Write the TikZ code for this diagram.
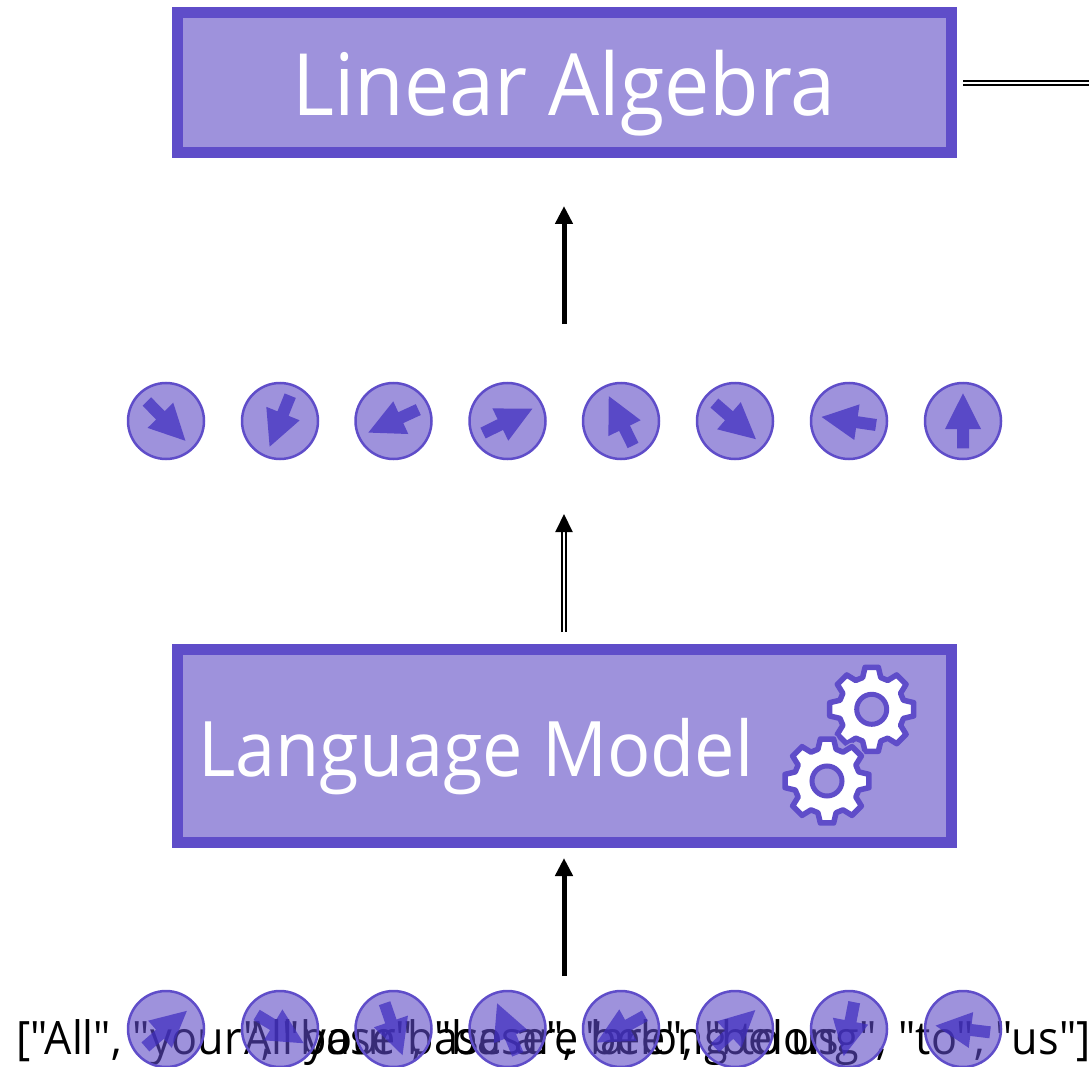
\documentclass[tikz,border=0pt]{standalone}
\usepackage{fontspec}
\setmainfont{Open Sans}
\newfontfamily\titlefont[FakeStretch=0.94]{Open Sans}
\newfontfamily\listfont[FakeStretch=0.938]{Open Sans}
\usetikzlibrary{arrows.meta}
\definecolor{edgec}{HTML}{5F4DC9}
\definecolor{boxc}{HTML}{9E92DC}
\definecolor{tintc}{HTML}{5D49C5}
\definecolor{markc}{HTML}{402EBF}
\tikzset{
  bigbox/.style={draw=edgec,fill=boxc,line width=11pt,inner sep=0pt,minimum width=774pt,text=white},
  token/.style={circle,draw=edgec,line width=2.5pt,fill=tintc,fill opacity=.6,draw opacity=1,minimum size=76pt,inner sep=0pt},
  tokenarrow/.style={fill=markc,fill opacity=.72},
  solidflow/.style={line width=5pt,-{Triangle[length=18pt,width=17pt]}},
  doubleflow/.style={double,draw=black,double=white,line width=2pt,double distance=2.2pt,-{Triangle[length=18pt,width=17pt]}},
  geartooth/.style={draw=edgec,line width=5.5pt,fill=white,line join=round},
  gearhole/.style={draw=edgec,line width=5pt,fill=boxc},
  listtext/.style={anchor=base west,inner sep=0pt,font=\listfont\fontsize{46}{50}\selectfont,text=black},
}
\newcommand{\tokenmark}[3]{%
  \node[token] (#3) at (#1) {};
  \fill[tokenarrow,shift={(#1)},rotate=#2] (0,-27.7) -- (18,8) -- (6,8) -- (6,27.3) -- (-6,27.3) -- (-6,8) -- (-18,8) -- cycle;
}
\newcommand{\geardraw}[2]{%
  \begin{scope}[shift={(#1)}]
    \path[#2] (-16:33) \foreach \a in {0,45,...,315} { -- (\a-16:33) -- (\a-9:42.5) -- (\a+9:42.5) -- (\a+16:33) } -- cycle;
  \end{scope}
}
\begin{document}
\begin{tikzpicture}[x=1pt,y=-1pt]
\useasboundingbox (0,0) rectangle (1089,1067);
% boxes
\node[bigbox,minimum height=140pt] (la) at (564.5,83) {};
\node[anchor=base,inner sep=0pt,text=white,font=\titlefont\fontsize{86}{90}\selectfont] (latext) at (564,116) {Linear Algebra};
\node[bigbox,minimum height=193pt] (lm) at (564.5,745.5) {};
\node[anchor=base west,inner sep=0pt,text=white,font=\titlefont\fontsize{76.6}{84}\selectfont] (lmtext) at (198,776) {Language Model};
% gears
\geardraw{871.7,709.3}{geartooth}
\node[gearhole,circle,minimum size=30pt,inner sep=0pt] (hole1) at (871.7,709.3) {};
\geardraw{827,781}{draw=boxc,line width=8pt,line join=round}
\geardraw{827,781}{geartooth}
\node[gearhole,circle,minimum size=30pt,inner sep=0pt] (hole2) at (827,781) {};
% connectors
\coordinate (dblout) at (1089,83);
\draw[double,draw=black,double=white,line width=2pt,double distance=1.8pt,shorten <=6pt] (la.east |- dblout) -- (dblout);
\coordinate (a1s) at (564,324); \coordinate (a1e) at (564,206);
\coordinate (a2s) at (564,632); \coordinate (a2e) at (564,514);
\coordinate (a3s) at (564,976); \coordinate (a3e) at (564,858);
\draw[solidflow] (a1s) -- (a1e);
\draw[doubleflow] (a2s) -- (a2e);
\draw[solidflow] (a3s) -- (a3e);
% text under the bottom tokens
\node[listtext] (list) at (16,1054) {["All", "your", "base", "base", "are", "belong", "to", "us"]};
\node[listtext] (plain) at (244,1054) {All your base are belong to us};
% top tokens
\tokenmark{166,421}{-135.5}{t1}
\tokenmark{280,421}{-202}{t2}
\tokenmark{393.5,421}{-245.3}{t3}
\tokenmark{507.5,421}{-63.7}{t4}
\tokenmark{621,421}{-333.8}{t5}
\tokenmark{735,421}{-131}{t6}
\tokenmark{849,421}{-278.4}{t7}
\tokenmark{963,421}{0}{t8}
% bottom tokens
\tokenmark{166,1029}{-49}{b1}
\tokenmark{280,1029}{-121}{b2}
\tokenmark{393.5,1029}{-161}{b3}
\tokenmark{507.5,1029}{-338}{b4}
\tokenmark{621,1029}{-241}{b5}
\tokenmark{735,1029}{-47}{b6}
\tokenmark{849,1029}{-191}{b7}
\tokenmark{963,1029}{-277}{b8}
\end{tikzpicture}
\end{document}
